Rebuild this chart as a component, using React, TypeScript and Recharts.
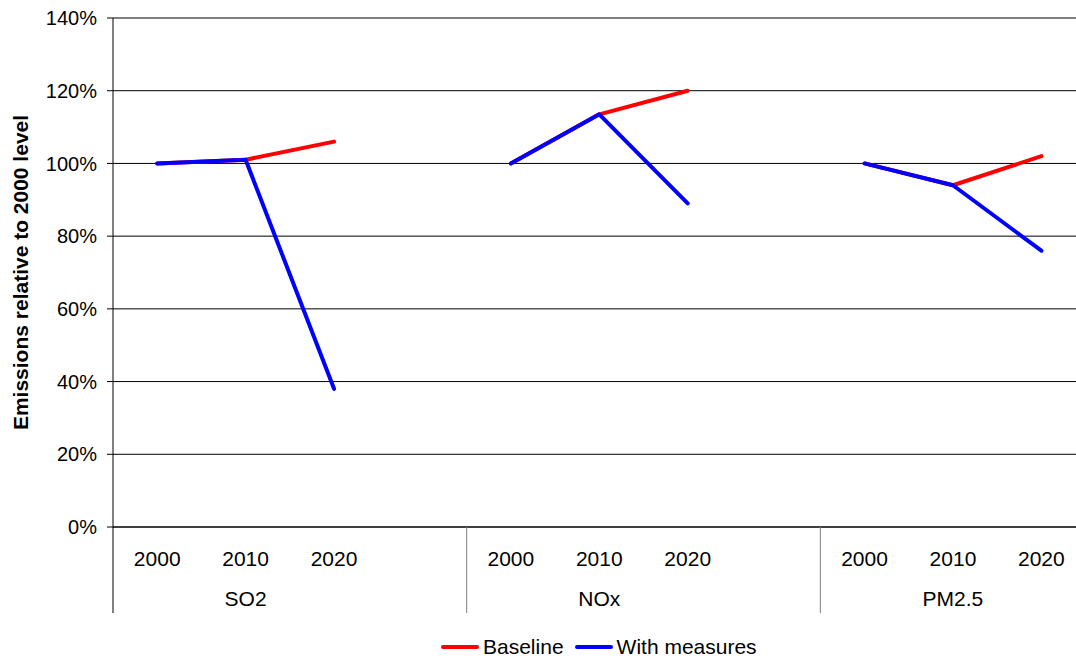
import { LineChart, Line, XAxis, YAxis, CartesianGrid, Legend, Label } from "recharts"

const pollutants = ["SO2", "NOx", "PM2.5"]
const years = ["2000", "2010", "2020"]

const baselineSO2 = [100, 101, 106]
const baselineNOx = [100, 113.5, 120]
const baselinePM25 = [100, 94, 102]

const measuresSO2 = [100, 101, 38]
const measuresNOx = [100, 113.5, 89]
const measuresPM25 = [100, 94, 76]

const yTicks = [0, 20, 40, 60, 80, 100, 120, 140]

const baseline = [baselineSO2, baselineNOx, baselinePM25]
const measures = [measuresSO2, measuresNOx, measuresPM25]

// one row per year, and an empty row after each pollutant so the lines break
const data = pollutants.flatMap((p, g) => [
  ...years.map((y, i) => ({
    key: `${p}-${y}`,
    year: y,
    group: p,
    baseline: baseline[g][i],
    measures: measures[g][i],
  })),
  { key: `${p}-gap`, year: "", group: p, baseline: null, measures: null },
])

const FONT = "'Liberation Sans', Arial, sans-serif"

const YearTick = (props: any) => {
  const { x, y, payload, index } = props
  const half = payload?.offset ?? 0
  const row = data[index]
  return (
    <g>
      {index % 4 === 0 && (
        <line x1={x - half} x2={x - half} y1={y} y2={y + 50} stroke={index === 0 ? "#000" : "#808080"} />
      )}
      <text x={x} y={y + 39} textAnchor="middle" fontSize={21} fill="#000" fontFamily={FONT}>
        {row?.year}
      </text>
    </g>
  )
}

const GroupTick = (props: any) => {
  const { x, y, payload, index } = props
  const half = payload?.offset ?? 0
  const row = data[index]
  return (
    <g>
      {index % 4 === 0 && (
        <line x1={x - half} x2={x - half} y1={y} y2={y + 36} stroke={index === 0 ? "#000" : "#808080"} />
      )}
      {index % 4 === 1 && (
        <text x={x} y={y + 29} textAnchor="middle" fontSize={21} fill="#000" fontFamily={FONT}>
          {row?.group}
        </text>
      )}
    </g>
  )
}

const LegendContent = (props: any) => {
  const items = props.payload || []
  return (
    <div
      style={{
        height: 46,
        boxSizing: "border-box",
        paddingTop: 21,
        paddingLeft: 441,
        display: "flex",
        alignItems: "center",
        fontFamily: FONT,
        fontSize: 21,
        color: "#000",
      }}
    >
      {items.map((it: any) => (
        <div key={it.value} style={{ display: "flex", alignItems: "center", marginRight: 11, height: 22 }}>
          <span style={{ display: "inline-block", width: 38, height: 4, background: it.color, borderRadius: 2, marginRight: 4 }} />
          <span style={{ lineHeight: "22px" }}>{it.value}</span>
        </div>
      ))}
    </div>
  )
}

export default function App() {
  return (
    <div
      style={{
        position: "fixed",
        left: 0,
        top: 0,
        width: 1076,
        height: 659,
        overflow: "hidden",
        background: "#fff",
        fontFamily: FONT,
      }}
    >
      <LineChart width={1184} height={659} data={data} margin={{ top: 18, right: 10, bottom: 0, left: 0 }}>
        <CartesianGrid vertical={false} stroke="#000" />
        <XAxis
          dataKey="key"
          scale="band"
          interval={0}
          height={50}
          tickSize={0}
          tickMargin={0}
          tickLine={false}
          axisLine={{ stroke: "#000" }}
          tick={<YearTick />}
        />
        <XAxis
          xAxisId="group"
          dataKey="key"
          scale="band"
          interval={0}
          height={36}
          tickSize={0}
          tickMargin={0}
          tickLine={false}
          axisLine={false}
          tick={<GroupTick />}
        />
        <YAxis
          width={113}
          domain={[0, 140]}
          ticks={yTicks}
          interval={0}
          tickFormatter={(v: number) => `${v}%`}
          tickSize={6}
          tickMargin={10}
          tick={{ fontSize: 20, fill: "#000", fontFamily: FONT }}
          tickLine={{ stroke: "#000" }}
          axisLine={{ stroke: "#000" }}
        >
          <Label
            content={({ viewBox }: any) => {
              const cx = (viewBox?.x ?? 0) + 20
              const cy = (viewBox?.y ?? 0) + (viewBox?.height ?? 0) / 2
              return (
                <text
                  x={cx}
                  y={cy}
                  transform={`rotate(-90 ${cx} ${cy})`}
                  textAnchor="middle"
                  dominantBaseline="central"
                  fontWeight="bold"
                  fontSize={21}
                  fill="#000"
                  fontFamily={FONT}
                >
                  Emissions relative to 2000 level
                </text>
              )
            }}
          />
        </YAxis>
        <Legend verticalAlign="bottom" wrapperStyle={{ left: 0 }} content={<LegendContent />} />
        <Line
          type="linear"
          dataKey="baseline"
          name="Baseline"
          stroke="#ff0000"
          strokeWidth={4}
          strokeLinecap="round"
          strokeLinejoin="round"
          dot={false}
          activeDot={false}
          connectNulls={false}
          isAnimationActive={false}
        />
        <Line
          type="linear"
          dataKey="measures"
          name="With measures"
          stroke="#0000ff"
          strokeWidth={4}
          strokeLinecap="round"
          strokeLinejoin="round"
          dot={false}
          activeDot={false}
          connectNulls={false}
          isAnimationActive={false}
        />
      </LineChart>
    </div>
  )
}
